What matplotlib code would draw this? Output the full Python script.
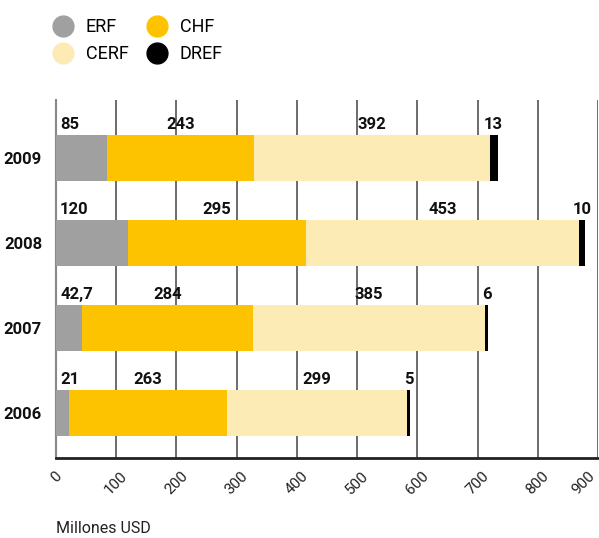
import matplotlib.pyplot as plt
from matplotlib.lines import Line2D
import numpy as np

plt.rcParams['font.family'] = ['Roboto', 'DejaVu Sans']

# datos
years = ['2006', '2007', '2008', '2009']
erf = [21, 42.7, 120, 85]
chf = [263, 284, 295, 243]
cerf = [299, 385, 453, 392]
dref = [5, 6, 10, 13]
erf_labels = ['21', '42,7', '120', '85']
series_names = ['ERF', 'CHF', 'CERF', 'DREF']
colors = ['#a0a0a0', '#fdc300', '#fdebb6', '#000000']
xticks = [0, 100, 200, 300, 400, 500, 600, 700, 800, 900]

fig = plt.figure(figsize=(5.99, 5.38), dpi=100)
ax = fig.add_axes([0.0935, 0.1487, 0.905, 0.6653])

y = np.arange(len(years))
h = 0.54
series = [erf, chf, cerf, dref]
left = np.zeros(len(years))
for k, vals in enumerate(series):
    vals = np.array(vals, dtype=float)
    ax.barh(y, vals, left=left, height=h, color=colors[k], zorder=3)
    for i, v in enumerate(vals):
        if k == 0:
            ax.annotate(erf_labels[i], (left[i], y[i] + h / 2), xytext=(3, 2),
                        textcoords='offset points', ha='left', va='bottom',
                        fontsize=12, fontweight='bold', color='#111')
        else:
            txt = str(int(v))
            ax.annotate(txt, (left[i] + v / 2, y[i] + h / 2), xytext=(0, 2),
                        textcoords='offset points', ha='center', va='bottom',
                        fontsize=12, fontweight='bold', color='#111')
    left += vals

ax.set_xlim(0, 900)
ax.set_ylim(-0.53, 3.68)
ax.set_yticks(y)
ax.set_yticklabels(years, fontsize=12, fontweight='bold', color='#111')
ax.set_xticks(xticks)
ax.set_xticklabels([str(t) for t in xticks], rotation=45, ha='center',
                   fontsize=11, color='#222')
ax.get_xticklabels()[-1].set_ha('right')
ax.tick_params(axis='both', length=0)
ax.tick_params(axis='y', pad=10)
ax.tick_params(axis='x', pad=8)

ax.grid(axis='x', color='#444444', linewidth=1.1, zorder=0)
ax.grid(axis='y', visible=False)
for s in ['top', 'right']:
    ax.spines[s].set_visible(False)
ax.spines['left'].set_color('#888888')
ax.spines['left'].set_linewidth(1.5)
ax.spines['bottom'].set_color('#222222')
ax.spines['bottom'].set_linewidth(2)

# leyenda
order = [0, 2, 1, 3]
handles = [Line2D([0], [0], marker='o', linestyle='', markersize=15,
                  markerfacecolor=colors[i], markeredgecolor=colors[i],
                  label=series_names[i]) for i in order]
fig.legend(handles=handles, loc='upper left', bbox_to_anchor=(0.045, 1.0),
           ncol=2, frameon=False, fontsize=13, handletextpad=0.25,
           columnspacing=0.6, labelspacing=0.5, borderaxespad=0.6)

fig.text(0.0935, 0.004, 'Millones USD', fontsize=11.5, color='#222',
         ha='left', va='bottom')

fig.savefig('out.png', dpi=100)
